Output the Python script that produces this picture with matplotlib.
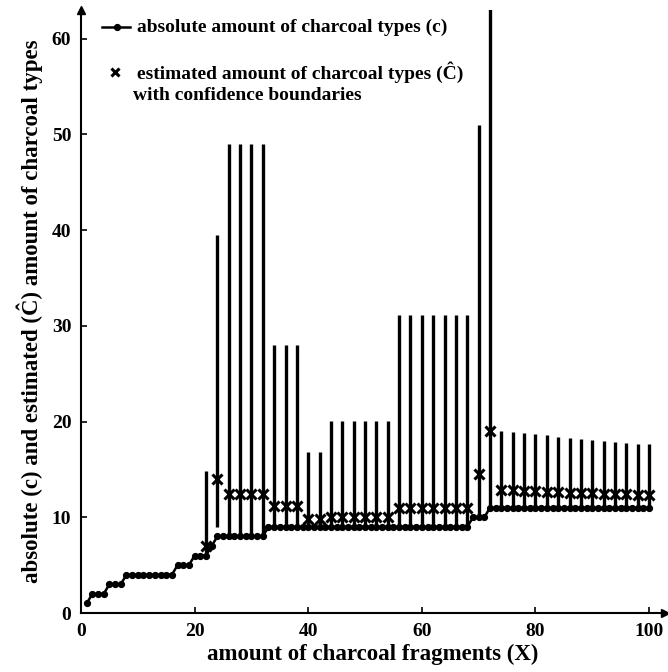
import matplotlib
matplotlib.use("Agg")
import matplotlib.pyplot as plt
from matplotlib.lines import Line2D

plt.rcParams['font.family'] = ['Liberation Serif', 'DejaVu Serif']
plt.rcParams['font.weight'] = 'bold'
plt.rcParams['axes.labelweight'] = 'bold'

# absolute amount of charcoal types (c) for X = 1..100
x_obs = list(range(1, 101))
c_obs = [1, 2, 2, 2, 3, 3, 3, 4, 4, 4,
         4, 4, 4, 4, 4, 4, 5, 5, 5, 6,
         6, 6, 7, 8, 8, 8, 8, 8, 8, 8,
         8, 8, 9, 9, 9, 9, 9, 9, 9, 9,
         9, 9, 9, 9, 9, 9, 9, 9, 9, 9,
         9, 9, 9, 9, 9, 9, 9, 9, 9, 9,
         9, 9, 9, 9, 9, 9, 9, 9, 10, 10,
         10, 11, 11, 11, 11, 11, 11, 11, 11, 11,
         11, 11, 11, 11, 11, 11, 11, 11, 11, 11,
         11, 11, 11, 11, 11, 11, 11, 11, 11, 11]

# estimated amount (C hat) with confidence boundaries, every second X
x_est = [22, 24, 26, 28, 30, 32, 34, 36, 38, 40,
         42, 44, 46, 48, 50, 52, 54, 56, 58, 60,
         62, 64, 66, 68, 70, 72, 74, 76, 78, 80,
         82, 84, 86, 88, 90, 92, 94, 96, 98, 100]
c_est = [7.0, 14.0, 12.4, 12.4, 12.4, 12.4, 11.2, 11.2, 11.2, 9.8,
         9.8, 10.0, 10.0, 10.0, 10.0, 10.0, 10.0, 11.0, 11.0, 11.0,
         11.0, 11.0, 11.0, 11.0, 14.5, 19.0, 12.8, 12.8, 12.7, 12.7,
         12.6, 12.6, 12.5, 12.5, 12.5, 12.4, 12.4, 12.4, 12.3, 12.3]
c_low = [6, 9, 8, 8, 8, 8, 9, 9, 9, 9,
         9, 9, 9, 9, 9, 9, 9, 9, 9, 9,
         9, 9, 9, 9, 10, 11, 11, 11, 11, 11,
         11, 11, 11, 11, 11, 11, 11, 11, 11, 11]
c_up = [14.8, 39.5, 49.0, 49.0, 49.0, 49.0, 28.0, 28.0, 28.0, 16.8,
        16.8, 20.1, 20.1, 20.1, 20.1, 20.1, 20.1, 31.1, 31.1, 31.1,
        31.1, 31.1, 31.1, 31.1, 51.0, 80.0, 19.0, 18.95, 18.8, 18.7,
        18.6, 18.4, 18.3, 18.2, 18.1, 18.0, 17.9, 17.8, 17.7, 17.65]

fig = plt.figure(figsize=(6.68, 6.72), dpi=100)
ax = fig.add_axes([81 / 668, 1 - 613 / 672, 584 / 668, 603 / 672])

ax.vlines(x_est, c_low, c_up, color='black', lw=2.4, zorder=2)
ax.plot(x_obs, c_obs, color='black', lw=1.8, marker='o', ms=4.2, zorder=3)
ax.plot(x_est, c_est, ls='none', marker='x', color='black', ms=7, mew=2.2, zorder=4)

ax.set_xlim(0, 102.8)
ax.set_ylim(0, 63.0)
ax.set_xticks(range(0, 101, 20))
ax.set_yticks(range(0, 61, 10))
ax.tick_params(direction='in', length=4, width=1.2, labelsize=14, pad=7)
for s in ['top', 'right']:
    ax.spines[s].set_visible(False)
for s in ['left', 'bottom']:
    ax.spines[s].set_linewidth(1.5)
# arrow heads on the axes
ax.plot(1, 0, '>k', ms=6, transform=ax.transAxes, clip_on=False)
ax.plot(0, 1, '^k', ms=6, transform=ax.transAxes, clip_on=False)

ax.set_xlabel('amount of charcoal fragments (X)', fontsize=16.5, labelpad=3)
ax.set_ylabel('absolute (c) and estimated (\u0108) amount of charcoal types', fontsize=16.5, labelpad=6)

# legend drawn by hand
fig.add_artist(Line2D([102 / 668, 130 / 668], [1 - 27 / 672, 1 - 27 / 672], color='black', lw=1.8))
fig.add_artist(Line2D([117 / 668], [1 - 27 / 672], color='black', marker='o', ms=4.2))
fig.text(137 / 668, 1 - 27 / 672, 'absolute amount of charcoal types (c)', fontsize=14, va='center')
fig.add_artist(Line2D([115 / 668], [1 - 72 / 672], color='black', marker='x', ms=6, mew=2.2, ls='none'))
fig.text(137 / 668, 1 - 72 / 672, 'estimated amount of charcoal types (\u0108)', fontsize=14, va='center')
fig.text(133 / 668, 1 - 95 / 672, 'with confidence boundaries', fontsize=14, va='center')

fig.savefig('out.png', dpi=100)
